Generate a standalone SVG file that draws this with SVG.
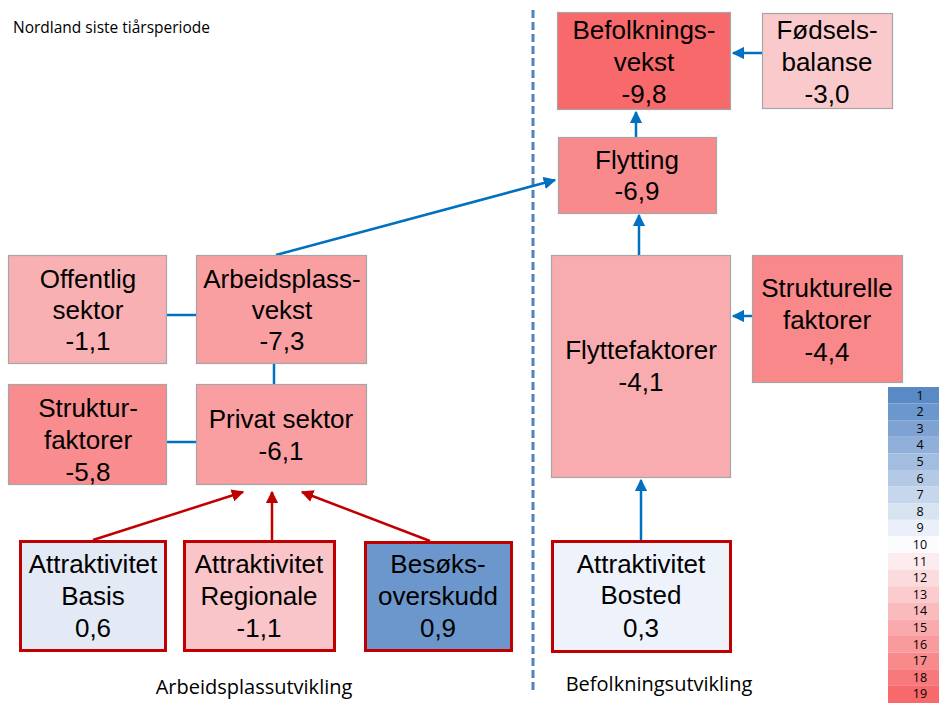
<svg xmlns="http://www.w3.org/2000/svg" width="939" height="703" viewBox="0 0 939 703">
<defs>
<style>
.bx{stroke:#A6A6A6;stroke-width:1.2}
.rb{stroke:#C00000;stroke-width:3}
.t{font-family:"Liberation Sans",Arial,sans-serif;font-size:26px;fill:#000;text-anchor:middle}
.s{font-family:"Open Sans","Liberation Sans",sans-serif;fill:#000}
.lg{font-family:"Open Sans","Liberation Sans",sans-serif;font-size:12.5px;fill:#000;text-anchor:middle}
.bl{stroke:#0070C0;stroke-width:2.5;fill:none}
.rd{stroke:#C00000;stroke-width:2.5;fill:none}
</style>
<marker id="ab" viewBox="0 0 10 10" refX="9" refY="5" markerWidth="5" markerHeight="5" orient="auto" markerUnits="strokeWidth">
<path d="M0,0 L10,5 L0,10 z" fill="#0070C0"/>
</marker>
<marker id="ar" viewBox="0 0 10 10" refX="9" refY="5" markerWidth="5" markerHeight="5" orient="auto" markerUnits="strokeWidth">
<path d="M0,0 L10,5 L0,10 z" fill="#C00000"/>
</marker>
</defs>
<rect width="939" height="703" fill="#FFFFFF"/>

<text class="s" x="13" y="33" font-size="15.5">Nordland siste tiårsperiode</text>
<text class="s" x="254" y="694" font-size="20" text-anchor="middle">Arbeidsplassutvikling</text>
<text class="s" x="659" y="691" font-size="20" text-anchor="middle">Befolkningsutvikling</text>

<line x1="533" y1="10" x2="533" y2="692" stroke="#4F81BD" stroke-width="3" stroke-dasharray="8,4"/>

<g id="connectors">
<line class="bl" x1="762" y1="53" x2="733" y2="53" marker-end="url(#ab)"/>
<line class="bl" x1="636" y1="137" x2="636" y2="112" marker-end="url(#ab)"/>
<line class="bl" x1="639" y1="255" x2="639" y2="215" marker-end="url(#ab)"/>
<line class="bl" x1="752" y1="316" x2="733" y2="316" marker-end="url(#ab)"/>
<line class="bl" x1="641" y1="540" x2="641" y2="480" marker-end="url(#ab)"/>
<line class="bl" x1="276" y1="255" x2="555" y2="180" marker-end="url(#ab)"/>
<line class="bl" x1="167" y1="315" x2="196" y2="315"/>
<line class="bl" x1="274" y1="364" x2="274" y2="384"/>
<line class="bl" x1="167" y1="442" x2="196" y2="442"/>
<line class="rd" x1="93" y1="540" x2="243" y2="492" marker-end="url(#ar)"/>
<line class="rd" x1="272" y1="540" x2="272" y2="492" marker-end="url(#ar)"/>
<line class="rd" x1="430" y1="541" x2="302" y2="492" marker-end="url(#ar)"/>
</g>

<g id="befolkningsvekst">
<rect class="bx" x="557.5" y="12.5" width="173" height="97" fill="#F8696B"/>
<text class="t" x="644" y="39">Befolknings-</text>
<text class="t" x="644" y="71">vekst</text>
<text class="t" x="644" y="103">-9,8</text>
</g>
<g id="fodselsbalanse">
<rect class="bx" x="762.5" y="13.5" width="130" height="95" fill="#F9C9CB"/>
<text class="t" x="827" y="39">Fødsels-</text>
<text class="t" x="827" y="71">balanse</text>
<text class="t" x="827" y="103">-3,0</text>
</g>
<g id="flytting">
<rect class="bx" x="558.5" y="137.5" width="158" height="76" fill="#F98A8C"/>
<text class="t" x="637" y="169">Flytting</text>
<text class="t" x="637" y="200">-6,9</text>
</g>
<g id="flyttefaktorer">
<rect class="bx" x="551.5" y="255.5" width="179" height="222" fill="#F9ACAF"/>
<text class="t" x="641" y="359">Flyttefaktorer</text>
<text class="t" x="641" y="391">-4,1</text>
</g>
<g id="strukturelle">
<rect class="bx" x="752.5" y="255.5" width="150" height="127" fill="#F8888A"/>
<text class="t" x="827" y="297">Strukturelle</text>
<text class="t" x="827" y="329">faktorer</text>
<text class="t" x="827" y="361">-4,4</text>
</g>
<g id="offentlig">
<rect class="bx" x="8.5" y="255.5" width="158" height="108" fill="#F8B0B3"/>
<text class="t" x="88" y="288">Offentlig</text>
<text class="t" x="88" y="319">sektor</text>
<text class="t" x="88" y="350">-1,1</text>
</g>
<g id="arbeidsplassvekst">
<rect class="bx" x="196.5" y="255.5" width="170" height="108" fill="#F99FA1"/>
<text class="t" x="282" y="288">Arbeidsplass-</text>
<text class="t" x="282" y="319">vekst</text>
<text class="t" x="282" y="350">-7,3</text>
</g>
<g id="strukturfaktorer">
<rect class="bx" x="8.5" y="384.5" width="158" height="100" fill="#F88C8E"/>
<text class="t" x="88" y="417">Struktur-</text>
<text class="t" x="88" y="449">faktorer</text>
<text class="t" x="88" y="481">-5,8</text>
</g>
<g id="privat">
<rect class="bx" x="196.5" y="384.5" width="170" height="100" fill="#F99FA1"/>
<text class="t" x="281" y="428">Privat sektor</text>
<text class="t" x="281" y="460">-6,1</text>
</g>
<g id="basis">
<rect class="rb" x="20.5" y="541.5" width="145" height="109" fill="#E3E9F5"/>
<text class="t" x="93" y="573">Attraktivitet</text>
<text class="t" x="93" y="605">Basis</text>
<text class="t" x="93" y="637">0,6</text>
</g>
<g id="regionale">
<rect class="rb" x="184.5" y="541.5" width="150" height="109" fill="#F9C5C8"/>
<text class="t" x="259" y="573">Attraktivitet</text>
<text class="t" x="259" y="605">Regionale</text>
<text class="t" x="259" y="637">-1,1</text>
</g>
<g id="besoksoverskudd">
<rect class="rb" x="365.5" y="542.5" width="146" height="108" fill="#6C97CC"/>
<text class="t" x="438" y="573">Besøks-</text>
<text class="t" x="438" y="605">overskudd</text>
<text class="t" x="438" y="637">0,9</text>
</g>
<g id="bosted">
<rect class="rb" x="552.5" y="541.5" width="178" height="110" fill="#EEF3FB"/>
<text class="t" x="641" y="573">Attraktivitet</text>
<text class="t" x="641" y="604">Bosted</text>
<text class="t" x="641" y="637">0,3</text>
</g>

<g id="legend">
<rect x="888" y="387" width="51" height="16.6" fill="#5A8AC6"/>
<rect x="888" y="403.6" width="51" height="16.6" fill="#6C97CC"/>
<rect x="888" y="420.2" width="51" height="16.6" fill="#7EA3D3"/>
<rect x="888" y="436.8" width="51" height="16.6" fill="#90B0D9"/>
<rect x="888" y="453.4" width="51" height="16.6" fill="#A2BDDF"/>
<rect x="888" y="470" width="51" height="16.6" fill="#B4C9E6"/>
<rect x="888" y="486.6" width="51" height="16.6" fill="#C6D6EC"/>
<rect x="888" y="503.2" width="51" height="16.6" fill="#D8E3F2"/>
<rect x="888" y="519.8" width="51" height="16.6" fill="#EAEFF9"/>
<rect x="888" y="536.4" width="51" height="16.6" fill="#FCFCFF"/>
<rect x="888" y="553" width="51" height="16.6" fill="#FCECEF"/>
<rect x="888" y="569.6" width="51" height="16.6" fill="#FBDBDE"/>
<rect x="888" y="586.2" width="51" height="16.6" fill="#FBCBCE"/>
<rect x="888" y="602.8" width="51" height="16.6" fill="#FABBBD"/>
<rect x="888" y="619.4" width="51" height="16.6" fill="#FAAAAD"/>
<rect x="888" y="636" width="51" height="16.6" fill="#F99A9C"/>
<rect x="888" y="652.6" width="51" height="16.6" fill="#F98A8C"/>
<rect x="888" y="669.2" width="51" height="16.6" fill="#F8797B"/>
<rect x="888" y="685.8" width="51" height="17.2" fill="#F8696B"/>
<text class="lg" x="920" y="399.5">1</text>
<text class="lg" x="920" y="416.1">2</text>
<text class="lg" x="920" y="432.7">3</text>
<text class="lg" x="920" y="449.3">4</text>
<text class="lg" x="920" y="465.9">5</text>
<text class="lg" x="920" y="482.5">6</text>
<text class="lg" x="920" y="499.1">7</text>
<text class="lg" x="920" y="515.7">8</text>
<text class="lg" x="920" y="532.3">9</text>
<text class="lg" x="920" y="548.9">10</text>
<text class="lg" x="920" y="565.5">11</text>
<text class="lg" x="920" y="582.1">12</text>
<text class="lg" x="920" y="598.7">13</text>
<text class="lg" x="920" y="615.3">14</text>
<text class="lg" x="920" y="631.9">15</text>
<text class="lg" x="920" y="648.5">16</text>
<text class="lg" x="920" y="665.1">17</text>
<text class="lg" x="920" y="681.7">18</text>
<text class="lg" x="920" y="698.3">19</text>
</g>
</svg>
